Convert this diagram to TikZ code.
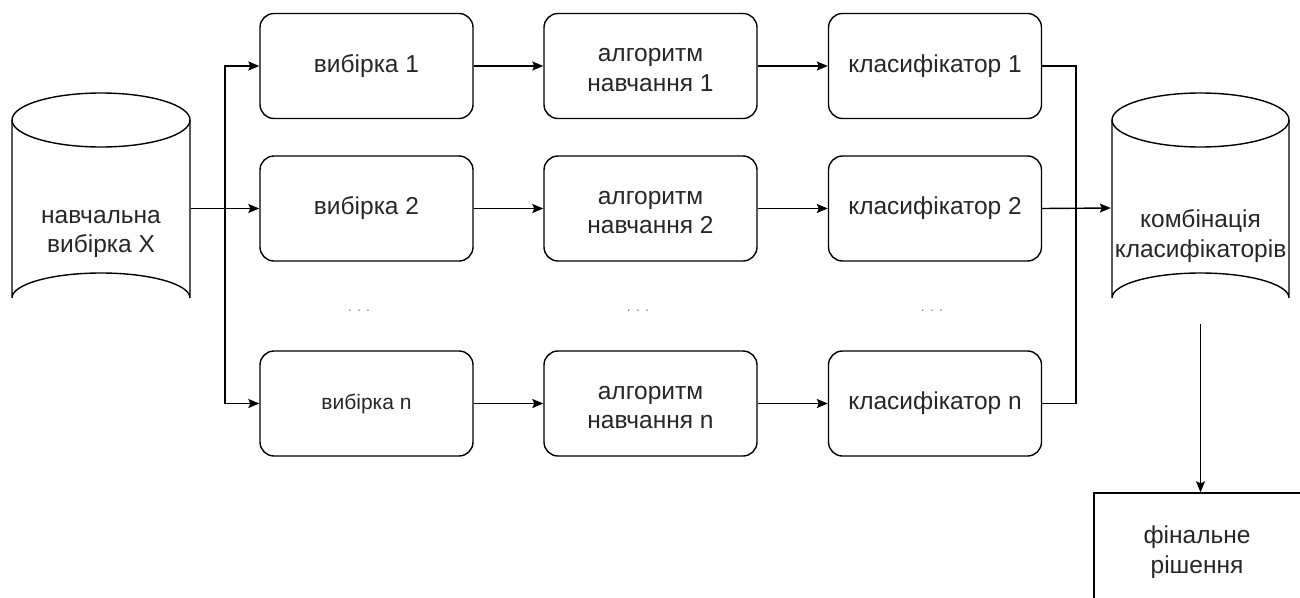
\documentclass[tikz,border=0pt]{standalone}
\usepackage{fontspec}
\setmainfont{Liberation Sans}
\usetikzlibrary{arrows.meta}
\begin{document}
\begin{tikzpicture}[x=1pt,y=-1pt,
  line width=1.4pt,
  every node/.style={font=\fontsize{24.5}{29.5}\selectfont, text=black!85, align=center, inner sep=0pt},
  stagebox/.style={draw, rounded corners=14pt, minimum width=213pt, minimum height=105pt},
  cylbody/.style={minimum width=178pt, minimum height=230pt},
  conn/.style={-{Stealth[length=11pt,width=9pt,inset=2pt]}},
  dotsnode/.style={text=black!50, font=\fontsize{14}{14}\selectfont}
]
\useasboundingbox (0,0) rectangle (1300,597);
% left cylinder
\node[cylbody] (data) at (101,208) {};
\draw (12,120) -- (12,298) arc[start angle=180, end angle=360, x radius=89, y radius=25] -- (190,120);
\draw (101,120) ellipse[x radius=89, y radius=27];
\node (datatxt) at (101,234) {навчальна\\вибірка X};
% right cylinder
\node[cylbody] (comb) at (1200.5,208) {};
\draw (1112,120) -- (1112,298) arc[start angle=180, end angle=360, x radius=88.5, y radius=25] -- (1289,120);
\draw (1200.5,120) ellipse[x radius=88.5, y radius=27];
\node (combtxt) at (1200.5,236) {комбінація\\класифікаторів};
% stage boxes
\node[stagebox] (s1) at (366.5,66) {вибірка 1};
\node[stagebox] (a1) at (650.5,66) {};
\node (a1t) at (650.5,70) {алгоритм\\навчання 1};
\node[stagebox] (c1) at (935,66) {класифікатор 1};
\node[stagebox] (s2) at (366.5,208.5) {вибірка 2};
\node[stagebox] (a2) at (650.5,208.5) {};
\node (a2t) at (650.5,212.5) {алгоритм\\навчання 2};
\node[stagebox] (c2) at (935,208.5) {класифікатор 2};
\node[stagebox] (sn) at (366.5,403.5) {\fontsize{21}{25}\selectfont вибірка n};
\node[stagebox] (an) at (650.5,403.5) {};
\node (ant) at (650.5,407.5) {алгоритм\\навчання n};
\node[stagebox] (cn) at (935,403.5) {класифікатор n};
% dots
\node[dotsnode] (d1) at (359,311) {. . .};
\node[dotsnode] (d2) at (638,311) {. . .};
\node[dotsnode] (d3) at (932,311) {. . .};
% final
\node[draw, minimum width=226pt, minimum height=146pt] (final) at (1207,566) {};
\node (finaltxt) at (1197,552) {фінальне\\рішення};
% connectors
\coordinate (split) at (225,208.5);
\coordinate (join) at (1076,208.5);
\draw[conn] (data.east |- s2.west) -- (s2.west);
\draw[conn] (split) |- (s1.west);
\draw[conn] (split) |- (sn.west);
\foreach \r in {1,2,n}{
  \draw[conn] (s\r.east) -- (a\r.west);
  \draw[conn] (a\r.east) -- (c\r.west);
}
\draw (c1.east) -| (join);
\draw (cn.east) -| (join);
\draw[conn] (c2.east) -- (comb.west);
\draw[conn] (comb.south) -- (comb.south |- final.north);
\end{tikzpicture}
\end{document}
